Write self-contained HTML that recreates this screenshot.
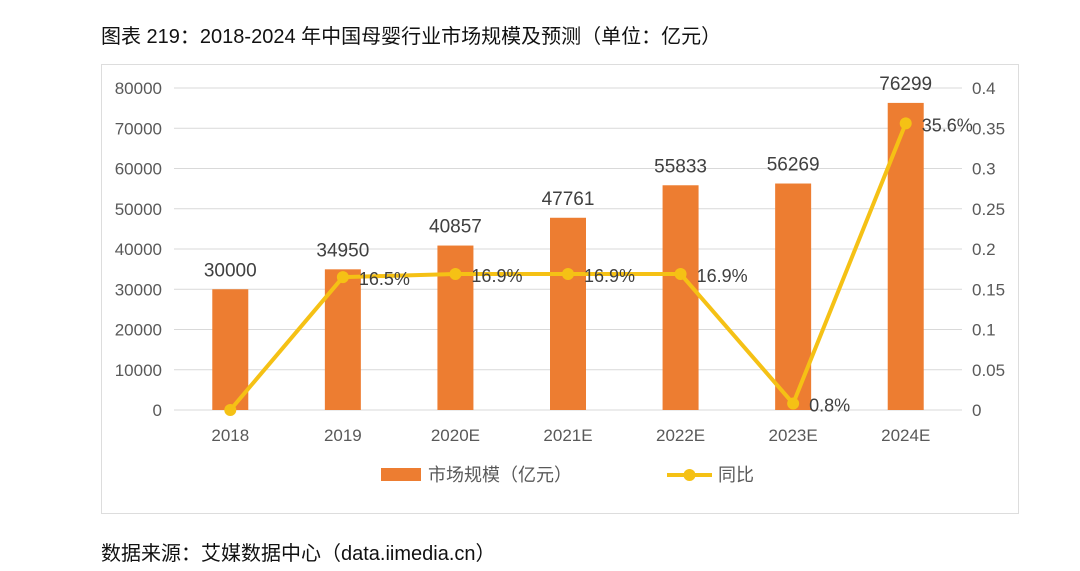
<!DOCTYPE html>
<html><head><meta charset="utf-8">
<style>
body{margin:0;width:1080px;height:571px;background:#fff;overflow:hidden;font-family:"Liberation Sans","Noto Sans CJK SC",sans-serif;}
#title{position:absolute;left:101px;top:20px;font-size:20px;color:#111;}
#source{position:absolute;left:101px;top:537px;font-size:20px;color:#111;}
#box{position:absolute;left:101px;top:64px;width:918px;height:450px;border:1px solid #ddd;box-sizing:border-box;}
svg{position:absolute;left:0;top:0;}
text{font-family:"Liberation Sans","Noto Sans CJK SC",sans-serif;}
</style></head><body>
<div id="title">图表 219：2018-2024 年中国母婴行业市场规模及预测（单位：亿元）</div>
<div id="box"></div>
<svg id="chart" width="1080" height="571"></svg>
<div id="source">数据来源：艾媒数据中心（data.iimedia.cn）</div>
<script>
const categories=["2018","2019","2020E","2021E","2022E","2023E","2024E"];
const marketSize=[30000,34950,40857,47761,55833,56269,76299];
const yoy=[0,0.165,0.169,0.169,0.169,0.008,0.356];
const yoyLabels=["","16.5%","16.9%","16.9%","16.9%","0.8%","35.6%"];
const leftTicks=[0,10000,20000,30000,40000,50000,60000,70000,80000];
const rightTicks=[0,0.05,0.1,0.15,0.2,0.25,0.3,0.35,0.4];

const svg=document.getElementById('chart');
const NS='http://www.w3.org/2000/svg';
const x0=174,x1=962,yTop=88,yBot=410;
const step=(x1-x0)/categories.length;
const xc=i=>x0+step*(i+0.5);
const yL=v=>yBot-(v/80000)*(yBot-yTop);
const yR=v=>yBot-(v/0.4)*(yBot-yTop);
function mk(tag,attrs,txt){const e=document.createElementNS(NS,tag);for(const k in attrs)e.setAttribute(k,attrs[k]);if(txt!==undefined)e.textContent=txt;svg.appendChild(e);return e;}

leftTicks.forEach(t=>{
  const g=mk('line',{x1:x0,x2:x1,y1:yL(t),y2:yL(t),stroke:'#d9d9d9','stroke-width':1});
  
  
  const l=mk('text',{x:162,y:yL(t)+6,'text-anchor':'end','font-size':17,fill:'#595959'},String(t));
  
  
});
rightTicks.forEach(t=>{
  const l=mk('text',{x:972,y:yR(t)+6,'text-anchor':'start','font-size':17,fill:'#595959'},String(t));
  
  
});
const bw=36;
categories.forEach((c,i)=>{
  const b=mk('rect',{x:xc(i)-bw/2,y:yL(marketSize[i]),width:bw,height:yBot-yL(marketSize[i]),fill:'#ed7d31'});
  
  
  const v=mk('text',{x:xc(i),y:yL(marketSize[i])-13,'text-anchor':'middle','font-size':19,fill:'#404040'},String(marketSize[i]));
  
  
  const cl=mk('text',{x:xc(i),y:441,'text-anchor':'middle','font-size':17,fill:'#595959'},c);
  
  
});
const pts=yoy.map((v,i)=>xc(i)+','+yR(v)).join(' ');
const pl=mk('polyline',{points:pts,fill:'none',stroke:'#f5c115','stroke-width':4,'stroke-linejoin':'round'});


yoy.forEach((v,i)=>{
  const p=mk('circle',{cx:xc(i),cy:yR(v),r:6,fill:'#f5c115'});
  
  
  if(yoyLabels[i]){
    const l=mk('text',{x:xc(i)+16,y:yR(v)+8,'font-size':18,fill:'#404040'},yoyLabels[i]);
    
    
  }
});
const lr=mk('rect',{x:381,y:468,width:40,height:13,fill:'#ed7d31'});


const lt=mk('text',{x:428,y:481,'font-size':18,fill:'#595959'},'市场规模（亿元）');


const ll=mk('line',{x1:667,x2:712,y1:475,y2:475,stroke:'#f5c115','stroke-width':4});


const lc=mk('circle',{cx:689.5,cy:475,r:6,fill:'#f5c115'});


const lt2=mk('text',{x:718,y:481,'font-size':18,fill:'#595959'},'同比');


</script>
</body></html>
